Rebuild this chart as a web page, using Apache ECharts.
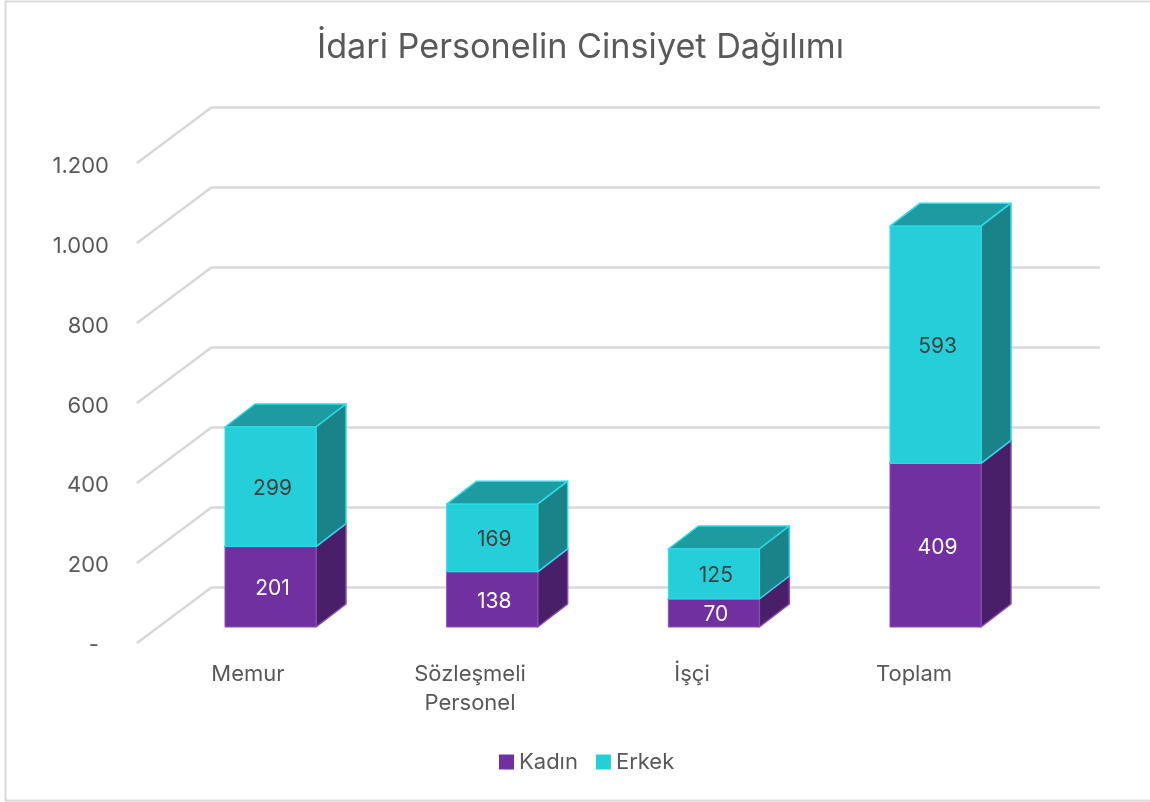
<!DOCTYPE html>
<html><head><meta charset="utf-8">
<style>html,body{margin:0;padding:0;background:#fff}#c{width:1150px;height:802px}</style>
<script src="https://cdn.jsdelivr.net/npm/echarts@6/dist/echarts.min.js"></script>
</head><body><div id="c"></div>
<script>
const chartTitle = 'İdari Personelin Cinsiyet Dağılımı';
const categories = ['Memur', 'Sözleşmeli\nPersonel', 'İşçi', 'Toplam'];
const kadin = [201, 138, 70, 409];
const erkek = [299, 169, 125, 593];
const ticks = [0, 200, 400, 600, 800, 1000, 1200];

const FONT = 'Inter';
const TEXT = '#595959';
const DX = 30, DY = -23;

function barSeries(name, values, base, c, labelColor) {
  return {
    type: 'custom', name, xAxisIndex: 1, yAxisIndex: 1, coordinateSystem: 'cartesian2d',
    itemStyle: { color: c.front },
    data: values.map((v, i) => [i, base[i], base[i] + v, v]),
    encode: { x: 0, y: [1, 2] },
    renderItem(params, api) {
      const i = api.value(0), lo = api.value(1), hi = api.value(2);
      const w = api.size([1, 0])[0] * 0.4105;
      const b = api.coord([i, lo]), t = api.coord([i, hi]);
      const l = b[0] - w / 2, r = b[0] + w / 2;
      const st = (fill) => ({ fill, stroke: c.edge, lineWidth: 1.5, lineJoin: 'round' });
      return { type: 'group', children: [
        { type: 'polygon', shape: { points: [[l, t[1]], [l + DX, t[1] + DY], [r + DX, t[1] + DY], [r, t[1]]] }, style: st(c.top) },
        { type: 'polygon', shape: { points: [[r, b[1]], [r + DX, b[1] + DY], [r + DX, t[1] + DY], [r, t[1]]] }, style: st(c.side) },
        { type: 'rect', shape: { x: l, y: t[1], width: r - l, height: b[1] - t[1] }, style: { fill: c.front, stroke: c.edge, lineWidth: 1 } },
        { type: 'text', style: { text: String(api.value(3)), x: b[0] + 2, y: (b[1] + t[1]) / 2 + 2, align: 'center', verticalAlign: 'middle',
          fill: labelColor, font: '21px ' + FONT } }
      ] };
    }
  };
}

const zero = kadin.map(() => 0);
const option = {
  animation: false,
  backgroundColor: '#fff',
  title: { text: chartTitle, left: 312, top: 26, itemGap: 0,
    textStyle: { fontFamily: FONT, fontSize: 34.2, fontWeight: 'normal', color: TEXT } },
  legend: { data: ['Kadın', 'Erkek'], left: 494, top: 746, icon: 'rect', itemWidth: 15, itemHeight: 15, itemGap: 18,
    textStyle: { fontFamily: FONT, fontSize: 22, color: TEXT, padding: [0, 0, 0, 0] } },
  grid: [
    { left: 212, width: 888, top: 107, height: 480 },
    { left: 159.67, width: 886.67, top: 147, height: 480 },
    { left: 137, width: 888, top: 166.5, height: 479 }
  ],
  xAxis: [
    { gridIndex: 0, type: 'category', data: categories, show: false },
    { gridIndex: 1, type: 'category', data: categories, show: false },
    { gridIndex: 2, type: 'category', data: categories, axisLine: { show: false }, axisTick: { show: false },
      axisLabel: { margin: 14, fontFamily: FONT, fontSize: 22, color: TEXT, lineHeight: 29 } }
  ],
  yAxis: [
    { gridIndex: 0, type: 'value', min: 0, max: 1200, interval: 200, axisLine: { show: false }, axisTick: { show: false },
      axisLabel: { show: false }, splitLine: { show: true, lineStyle: { color: '#D9D9D9', width: 2.5 } } },
    { gridIndex: 1, type: 'value', min: 0, max: 1200, interval: 200, show: false, splitLine: { show: false } },
    { gridIndex: 2, type: 'value', min: 0, max: 1200, interval: 200, axisLine: { show: false }, axisTick: { show: false },
      splitLine: { show: false },
      axisLabel: { margin: 28, fontFamily: FONT, fontSize: 22, color: TEXT,
        formatter: v => v === 0 ? '- \u2009' : String(v).replace(/\B(?=(\d{3})+$)/g, '.') } }
  ],
  series: [
    {
      type: 'custom', xAxisIndex: 0, yAxisIndex: 0, silent: true, z: 1,
      data: ticks.map(t => [0, t]),
      renderItem(params, api) {
        const p = api.coord([0, api.value(1)]);
        const x = params.coordSys.x, y = p[1];
        return { type: 'line', shape: { x1: x - 75, y1: y + 56, x2: x, y2: y },
          style: { stroke: '#D9D9D9', lineWidth: 2.5 } };
      }
    },
    Object.assign(barSeries('Kadın', kadin, zero,
      { front: '#7030A0', side: '#4A1F69', top: '#5A2682', edge: '#8A4DB8' }, '#FFFFFF'), { z: 2 }),
    Object.assign(barSeries('Erkek', erkek, kadin,
      { front: '#25CFD9', side: '#1A8389', top: '#1E9BA1', edge: '#2FDCE6' }, '#404040'), { z: 3 })
  ],
  graphic: [{ type: 'polyline', silent: true, z: 100,
    shape: { points: [[1150, 1.5], [5.5, 1.5], [5.5, 800.5], [1150, 800.5]] },
    style: { fill: 'none', stroke: '#D9D9D9', lineWidth: 2 } }]
};
const chart = echarts.init(document.getElementById('c'), null, { renderer: 'canvas' });
chart.setOption(option);
</script></body></html>
